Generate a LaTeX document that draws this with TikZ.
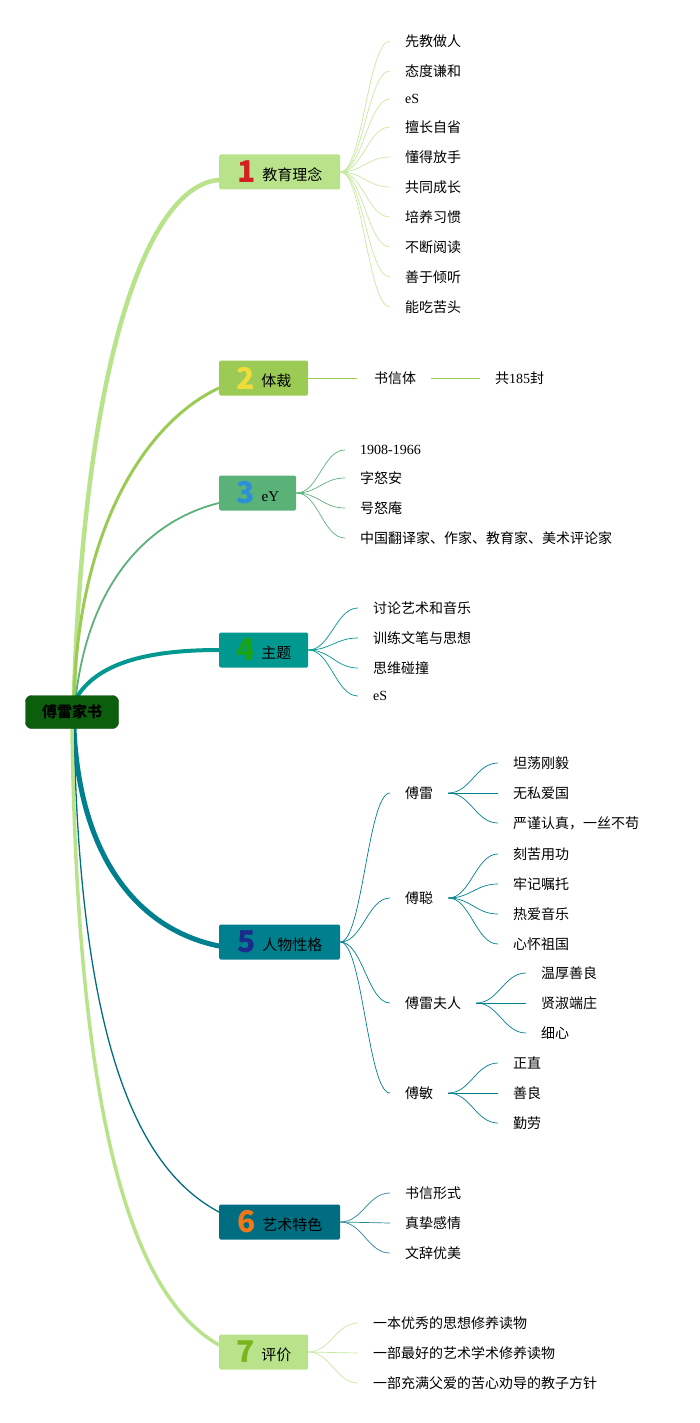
\documentclass[tikz,border=0pt]{standalone}
\usepackage{fontspec}
\setmainfont{Liberation Serif}
\newfontfamily\cjk{Noto Sans CJK SC}
\usepackage{xcolor}
\usetikzlibrary{positioning,backgrounds}

\definecolor{rootc}{HTML}{0B5E0B}
\definecolor{lgreen}{HTML}{B9E38B}
\definecolor{olive}{HTML}{9CCB55}
\definecolor{mgreen}{HTML}{5BB279}
\definecolor{teal4}{HTML}{00988F}
\definecolor{cyan5}{HTML}{00808F}
\definecolor{dteal}{HTML}{006E80}
\definecolor{nred}{HTML}{D42020}
\definecolor{nyellow}{HTML}{F2DC3C}
\definecolor{nblue}{HTML}{2B8FDA}
\definecolor{ngreen}{HTML}{1AA31A}
\definecolor{nnavy}{HTML}{1C2A8C}
\definecolor{norange}{HTML}{F07818}
\definecolor{nlime}{HTML}{7AB51D}

\newcommand\bnum[2]{{\cjk\bfseries\fontsize{30}{30}\selectfont\color{#1}#2}\hspace{7pt}}
\newcommand\btxt[1]{\raisebox{2.5pt}{#1}}

\begin{document}
\begin{tikzpicture}[
    x=1pt, y=-1pt,
    root/.style={rectangle, rounded corners=6pt, draw=rootc!80!black,
      fill=rootc, minimum width=93pt, minimum height=33pt, inner sep=0pt,
      font=\cjk\bfseries\fontsize{15}{18}\selectfont},
    topic/.style={rectangle, rounded corners=1.5pt, anchor=west,
      minimum height=35pt, inner sep=0pt,
      font=\cjk\fontsize{15}{18}\selectfont},
    leaf/.style={anchor=west, inner sep=0pt,
      font=\cjk\fontsize{14}{17}\selectfont},
    twig/.style={line width=0.7pt},
    limb/.style={line cap=round}
  ]
    \useasboundingbox (0,0) rectangle (699,1423);

    % ── Root and main topics ─────────────────────────────────
    \node[root]                                   (root)  at (72,712)   {傅雷家书};
    \node[topic, fill=lgreen, minimum width=121pt] (edu)   at (219,172)  {\bnum{nred}{1}\btxt{教育理念}};
    \node[topic, fill=olive,  minimum width=89pt]  (genre) at (219,378)  {\bnum{nyellow}{2}\btxt{体裁}};
    \node[topic, fill=mgreen, minimum width=77pt]  (bio)   at (219,493)  {\bnum{nblue}{3}\btxt{\rmfamily eY}};
    \node[topic, fill=teal4,  minimum width=89pt]  (theme) at (219,650)  {\bnum{ngreen}{4}\btxt{主题}};
    \node[topic, fill=cyan5,  minimum width=121pt] (chars) at (219,942)  {\bnum{nnavy}{5}\btxt{人物性格}};
    \node[topic, fill=dteal,  minimum width=121pt] (art)   at (219,1222) {\bnum{norange}{6}\btxt{艺术特色}};
    \node[topic, fill=lgreen, minimum width=89pt]  (eval)  at (219,1352) {\bnum{nlime}{7}\btxt{评价}};

    % ── 1 教育理念 ───────────────────────────────────────────
    \node[leaf] (e1)  at (405,41)  {先教做人};
    \node[leaf] (e2)  at (405,71)  {态度谦和};
    \node[leaf] (e3)  at (405,99)  {\rmfamily eS};
    \node[leaf] (e4)  at (405,127) {擅长自省};
    \node[leaf] (e5)  at (405,157) {懂得放手};
    \node[leaf] (e6)  at (405,187) {共同成长};
    \node[leaf] (e7)  at (405,217) {培养习惯};
    \node[leaf] (e8)  at (405,247) {不断阅读};
    \node[leaf] (e9)  at (405,277) {善于倾听};
    \node[leaf] (e10) at (405,307) {能吃苦头};

    % ── 2 体裁 ───────────────────────────────────────────────
    \node[leaf] (s1) at (374,378) {书信体};
    \node[leaf] (s2) at (495,378) {共{\rmfamily 185}封};

    % ── 3 eY ─────────────────────────────────────────────────
    \node[leaf] (p1) at (360,450) {\rmfamily 1908-1966};
    \node[leaf] (p2) at (360,478) {字怒安};
    \node[leaf] (p3) at (360,508) {号怒庵};
    \node[leaf] (p4) at (360,538) {中国翻译家、作家、教育家、美术评论家};

    % ── 4 主题 ───────────────────────────────────────────────
    \node[leaf] (t1) at (373,608) {讨论艺术和音乐};
    \node[leaf] (t2) at (373,638) {训练文笔与思想};
    \node[leaf] (t3) at (373,668) {思维碰撞};
    \node[leaf] (t4) at (373,696) {\rmfamily eS};

    % ── 5 人物性格 ───────────────────────────────────────────
    \node[leaf] (f1) at (405,793)  {傅雷};
    \node[leaf] (f2) at (405,898)  {傅聪};
    \node[leaf] (f3) at (405,1003) {傅雷夫人};
    \node[leaf] (f4) at (405,1093) {傅敏};
    \node[leaf] (f1a) at (513,763) {坦荡刚毅};
    \node[leaf] (f1b) at (513,793) {无私爱国};
    \node[leaf] (f1c) at (513,823) {严谨认真，一丝不苟};
    \node[leaf] (f2a) at (513,854) {刻苦用功};
    \node[leaf] (f2b) at (513,884) {牢记嘱托};
    \node[leaf] (f2c) at (513,914) {热爱音乐};
    \node[leaf] (f2d) at (513,944) {心怀祖国};
    \node[leaf] (f3a) at (541,973)  {温厚善良};
    \node[leaf] (f3b) at (541,1003) {贤淑端庄};
    \node[leaf] (f3c) at (541,1033) {细心};
    \node[leaf] (f4a) at (513,1063) {正直};
    \node[leaf] (f4b) at (513,1093) {善良};
    \node[leaf] (f4c) at (513,1123) {勤劳};

    % ── 6 艺术特色 ───────────────────────────────────────────
    \node[leaf] (a1) at (405,1193) {书信形式};
    \node[leaf] (a2) at (405,1223) {真挚感情};
    \node[leaf] (a3) at (405,1253) {文辞优美};

    % ── 7 评价 ───────────────────────────────────────────────
    \node[leaf] (v1) at (373,1323) {一本优秀的思想修养读物};
    \node[leaf] (v2) at (373,1353) {一部最好的艺术学术修养读物};
    \node[leaf] (v3) at (373,1383) {一部充满父爱的苦心劝导的教子方针};

    \begin{scope}[on background layer]
    % ── Main limbs from the root ─────────────────────────────
    \draw[limb, lgreen, line width=4.5pt] ([xshift=2pt]root.north)
      .. controls (85,350) and (150,185) .. ([yshift=-8pt]edu.west);
    \draw[limb, olive, line width=3pt] ([xshift=2pt]root.north)
      .. controls (80,520) and (150,420) .. ([yshift=-10pt]genre.west);
    \draw[limb, mgreen, line width=1.8pt] ([xshift=4pt]root.north)
      .. controls (90,580) and (150,520) .. ([yshift=-10pt]bio.west);
    \draw[limb, teal4, line width=4pt] ([xshift=6pt]root.north)
      .. controls (100,662) and (150,650) .. (theme.west);
    \draw[limb, cyan5, line width=5pt] ([xshift=2pt]root.south)
      .. controls (80,860) and (140,930) .. ([yshift=-4pt]chars.west);
    \draw[limb, dteal, line width=1.3pt] ([xshift=2pt]root.south)
      .. controls (80,1050) and (140,1170) .. ([yshift=10pt]art.west);
    \draw[limb, lgreen, line width=3.5pt] (root.south)
      .. controls (78,1150) and (140,1300) .. ([yshift=7pt]eval.west);

    % ── Twigs of 1 ───────────────────────────────────────────
    \draw[twig, lgreen!80] (edu.east) .. controls +(22,0) and +(-22,0) .. ([xshift=-15pt]e1.west);
    \draw[twig, lgreen!80] (edu.east) .. controls +(22,0) and +(-22,0) .. ([xshift=-15pt]e2.west);
    \draw[twig, lgreen!80] (edu.east) .. controls +(22,0) and +(-22,0) .. ([xshift=-15pt]e3.west);
    \draw[twig, lgreen!80] (edu.east) .. controls +(22,0) and +(-22,0) .. ([xshift=-15pt]e4.west);
    \draw[twig, lgreen!80] (edu.east) .. controls +(22,0) and +(-22,0) .. ([xshift=-15pt]e5.west);
    \draw[twig, lgreen!80] (edu.east) .. controls +(22,0) and +(-22,0) .. ([xshift=-15pt]e6.west);
    \draw[twig, lgreen!80] (edu.east) .. controls +(22,0) and +(-22,0) .. ([xshift=-15pt]e7.west);
    \draw[twig, lgreen!80] (edu.east) .. controls +(22,0) and +(-22,0) .. ([xshift=-15pt]e8.west);
    \draw[twig, lgreen!80] (edu.east) .. controls +(22,0) and +(-22,0) .. ([xshift=-15pt]e9.west);
    \draw[twig, lgreen!80] (edu.east) .. controls +(22,0) and +(-22,0) .. ([xshift=-15pt]e10.west);

    % ── Twigs of 2 ───────────────────────────────────────────
    \draw[twig, olive] (genre.east) -- ([xshift=-17pt]s1.west);
    \draw[twig, olive] ([xshift=15pt]s1.east) -- ([xshift=-15pt]s2.west);

    % ── Twigs of 3 ───────────────────────────────────────────
    \draw[twig, mgreen] (bio.east) .. controls +(22,0) and +(-22,0) .. ([xshift=-15pt]p1.west);
    \draw[twig, mgreen] (bio.east) .. controls +(22,0) and +(-22,0) .. ([xshift=-15pt]p2.west);
    \draw[twig, mgreen] (bio.east) .. controls +(22,0) and +(-22,0) .. ([xshift=-15pt]p3.west);
    \draw[twig, mgreen] (bio.east) .. controls +(22,0) and +(-22,0) .. ([xshift=-15pt]p4.west);

    % ── Twigs of 4 ───────────────────────────────────────────
    \draw[twig, teal4] (theme.east) .. controls +(22,0) and +(-22,0) .. ([xshift=-15pt]t1.west);
    \draw[twig, teal4] (theme.east) .. controls +(22,0) and +(-22,0) .. ([xshift=-15pt]t2.west);
    \draw[twig, teal4] (theme.east) .. controls +(22,0) and +(-22,0) .. ([xshift=-15pt]t3.west);
    \draw[twig, teal4] (theme.east) .. controls +(22,0) and +(-22,0) .. ([xshift=-15pt]t4.west);

    % ── Twigs of 5 ───────────────────────────────────────────
    \draw[twig, cyan5] (chars.east) .. controls +(22,0) and +(-22,0) .. ([xshift=-15pt]f1.west);
    \draw[twig, cyan5] (chars.east) .. controls +(22,0) and +(-22,0) .. ([xshift=-15pt]f2.west);
    \draw[twig, cyan5] (chars.east) .. controls +(22,0) and +(-22,0) .. ([xshift=-15pt]f3.west);
    \draw[twig, cyan5] (chars.east) .. controls +(22,0) and +(-22,0) .. ([xshift=-15pt]f4.west);
    \draw[twig, cyan5] ([xshift=15pt]f1.east) .. controls +(22,0) and +(-22,0) .. ([xshift=-15pt]f1a.west);
    \draw[twig, cyan5] ([xshift=15pt]f1.east) -- ([xshift=-15pt]f1b.west);
    \draw[twig, cyan5] ([xshift=15pt]f1.east) .. controls +(22,0) and +(-22,0) .. ([xshift=-15pt]f1c.west);
    \draw[twig, cyan5] ([xshift=15pt]f2.east) .. controls +(22,0) and +(-22,0) .. ([xshift=-15pt]f2a.west);
    \draw[twig, cyan5] ([xshift=15pt]f2.east) .. controls +(22,0) and +(-22,0) .. ([xshift=-15pt]f2b.west);
    \draw[twig, cyan5] ([xshift=15pt]f2.east) .. controls +(22,0) and +(-22,0) .. ([xshift=-15pt]f2c.west);
    \draw[twig, cyan5] ([xshift=15pt]f2.east) .. controls +(22,0) and +(-22,0) .. ([xshift=-15pt]f2d.west);
    \draw[twig, cyan5] ([xshift=15pt]f3.east) .. controls +(22,0) and +(-22,0) .. ([xshift=-15pt]f3a.west);
    \draw[twig, cyan5] ([xshift=15pt]f3.east) -- ([xshift=-15pt]f3b.west);
    \draw[twig, cyan5] ([xshift=15pt]f3.east) .. controls +(22,0) and +(-22,0) .. ([xshift=-15pt]f3c.west);
    \draw[twig, cyan5] ([xshift=15pt]f4.east) .. controls +(22,0) and +(-22,0) .. ([xshift=-15pt]f4a.west);
    \draw[twig, cyan5] ([xshift=15pt]f4.east) -- ([xshift=-15pt]f4b.west);
    \draw[twig, cyan5] ([xshift=15pt]f4.east) .. controls +(22,0) and +(-22,0) .. ([xshift=-15pt]f4c.west);

    % ── Twigs of 6 ───────────────────────────────────────────
    \draw[twig, dteal!85] (art.east) .. controls +(22,0) and +(-22,0) .. ([xshift=-15pt]a1.west);
    \draw[twig, dteal!85] (art.east) -- ([xshift=-15pt]a2.west);
    \draw[twig, dteal!85] (art.east) .. controls +(22,0) and +(-22,0) .. ([xshift=-15pt]a3.west);

    % ── Twigs of 7 ───────────────────────────────────────────
    \draw[twig, lgreen!80] (eval.east) .. controls +(22,0) and +(-22,0) .. ([xshift=-15pt]v1.west);
    \draw[twig, lgreen!80] (eval.east) -- ([xshift=-15pt]v2.west);
    \draw[twig, lgreen!80] (eval.east) .. controls +(22,0) and +(-22,0) .. ([xshift=-15pt]v3.west);
    \end{scope}
  \end{tikzpicture}
\end{document}
